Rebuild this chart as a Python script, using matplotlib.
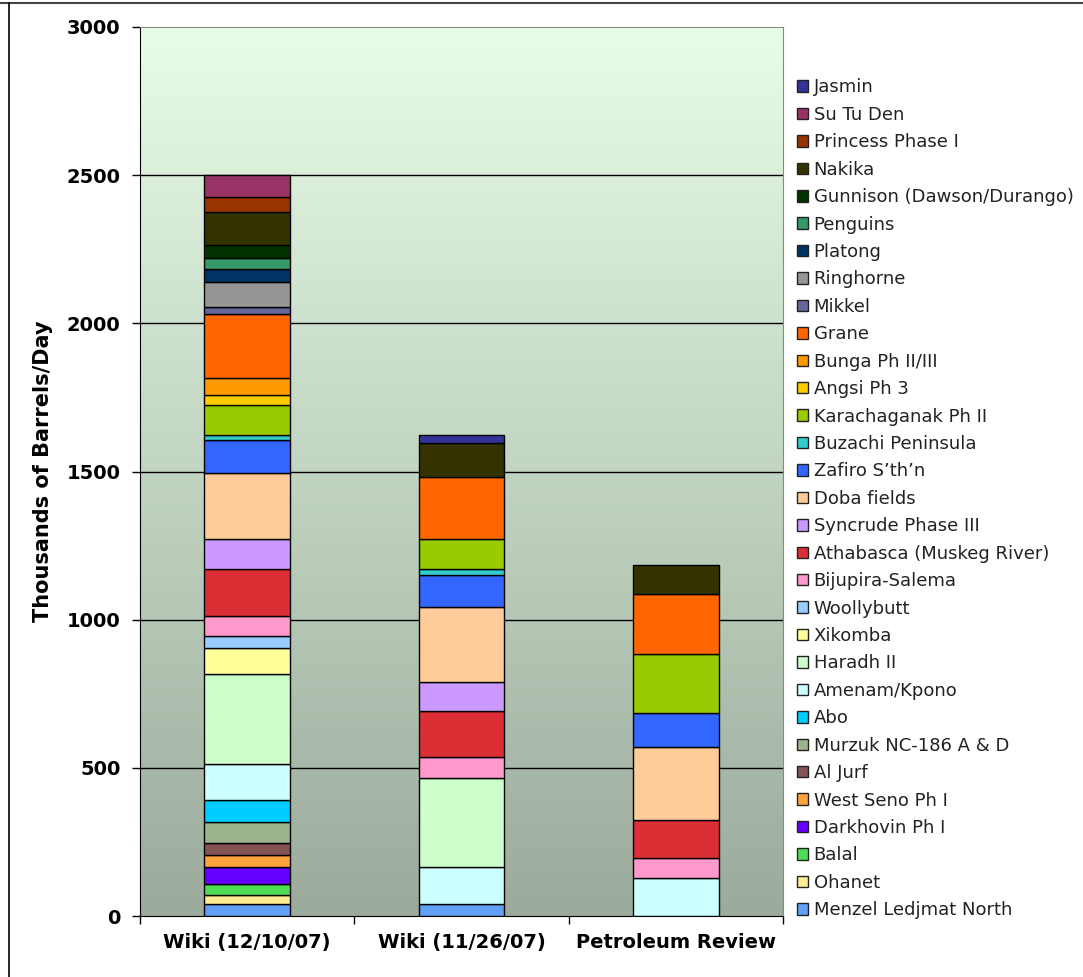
import numpy as np
import matplotlib
matplotlib.use('Agg')
import matplotlib.pyplot as plt
from matplotlib.patches import Patch
from matplotlib.lines import Line2D

# sources compared
sources = ['Wiki (12/10/07)', 'Wiki (11/26/07)', 'Petroleum Review']

# projects, stacked bottom to top (thousands of barrels/day per source)
projects = [
    'Menzel Ledjmat North', 'Ohanet', 'Balal', 'Darkhovin Ph I', 'West Seno Ph I',
    'Al Jurf', 'Murzuk NC-186 A & D', 'Abo', 'Amenam/Kpono', 'Haradh II',
    'Xikomba', 'Woollybutt', 'Bijupira-Salema', 'Athabasca (Muskeg River)',
    'Syncrude Phase III', 'Doba fields', 'Zafiro S\u2019th\u2019n', 'Buzachi Peninsula',
    'Karachaganak Ph II', 'Angsi Ph 3', 'Bunga Ph II/III', 'Grane', 'Mikkel',
    'Ringhorne', 'Platong', 'Penguins', 'Gunnison (Dawson/Durango)', 'Nakika',
    'Princess Phase I', 'Su Tu Den', 'Jasmin',
]

menzel      = [40, 40, 0]
ohanet      = [30, 0, 0]
balal       = [37, 0, 0]
darkhovin   = [58, 0, 0]
west_seno   = [40, 0, 0]
al_jurf     = [40, 0, 0]
murzuk      = [73, 0, 0]
abo         = [73, 0, 0]
amenam      = [122, 127, 127]
haradh      = [304, 300, 0]
xikomba     = [89, 0, 0]
woollybutt  = [40, 0, 0]
bijupira    = [68, 68, 70]
athabasca   = [157, 158, 127]
syncrude    = [102, 97, 0]
doba        = [222, 253, 247]
zafiro      = [112, 109, 115]
buzachi     = [17, 19, 0]
karachag    = [99, 102, 199]
angsi       = [34, 0, 0]
bunga       = [57, 0, 0]
grane       = [217, 210, 200]
mikkel      = [24, 0, 0]
ringhorne   = [86, 0, 0]
platong     = [42, 0, 0]
penguins    = [37, 0, 0]
gunnison    = [45, 0, 0]
nakika      = [109, 113, 99]
princess    = [52, 0, 0]
su_tu_den   = [75, 0, 0]
jasmin      = [0, 28, 0]

values = [menzel, ohanet, balal, darkhovin, west_seno, al_jurf, murzuk, abo,
          amenam, haradh, xikomba, woollybutt, bijupira, athabasca, syncrude,
          doba, zafiro, buzachi, karachag, angsi, bunga, grane, mikkel,
          ringhorne, platong, penguins, gunnison, nakika, princess, su_tu_den,
          jasmin]

colors = ['#62A0F8', '#FFEB90', '#4CDD55', '#6600FF', '#FFA33F', '#845356',
          '#9BB48B', '#00CCFF', '#CCFFFF', '#CCFFCC', '#FFFF99', '#99CCFF',
          '#FF99CC', '#DC2E35', '#CC99FF', '#FFCC99', '#3366FF', '#33CCCC',
          '#99CC00', '#FFCC00', '#FF9900', '#FF6600', '#666699', '#969696',
          '#003366', '#339966', '#003300', '#333300', '#993300', '#993366',
          '#333399']

fig = plt.figure(figsize=(10.83, 9.77), dpi=100)
ax = fig.add_axes([0.1293, 0.0624, 0.5937, 0.91])

# green-to-grey backdrop of the plot area
grad = np.linspace(0, 1, 256).reshape(-1, 1)
top = np.array([0.91, 0.99, 0.91])
bot = np.array([0.61, 0.67, 0.61])
img = top + grad[..., None] * (bot - top)
ax.imshow(img, extent=[-0.5, 2.5, 0, 3000], aspect='auto', zorder=0,
          interpolation='bilinear')

x = np.arange(len(sources))
bottom = np.zeros(len(sources))
for name, vals, col in zip(projects, values, colors):
    vals = np.array(vals, dtype=float)
    keep = vals > 0
    ax.bar(x[keep], vals[keep], bottom=bottom[keep], width=0.4, color=col,
           edgecolor='black', linewidth=1.0, zorder=3)
    bottom += vals

ax.set_xlim(-0.5, 2.5)
ax.set_ylim(0, 3000)
ax.set_yticks([0, 500, 1000, 1500, 2000, 2500, 3000])
ax.set_yticklabels(['0', '500', '1000', '1500', '2000', '2500', '3000'],
                   fontsize=14, fontweight='bold')
ax.set_xticks(x)
ax.set_xticklabels(sources, fontsize=14, fontweight='bold')
ax.tick_params(axis='x', length=0, pad=12)
ax.tick_params(axis='y', length=6, width=1, direction='out', pad=8)
# category separators on the x axis
ax.set_xticks([-0.5, 0.5, 1.5, 2.5], minor=True)
ax.tick_params(axis='x', which='minor', length=6, width=1, direction='out')

for yv in [500, 1000, 1500, 2000, 2500]:
    ax.axhline(yv, color='black', linewidth=1, zorder=1)

ax.set_ylabel('Thousands of Barrels/Day', fontsize=15, fontweight='bold',
              labelpad=10)

for side in ['top', 'right']:
    ax.spines[side].set_color('#888888')
for side in ['left', 'bottom']:
    ax.spines[side].set_color('black')

handles = [Patch(facecolor=c, edgecolor='#222222', linewidth=1.0)
           for c in colors]
leg = fig.legend(handles[::-1], projects[::-1], loc='upper left',
                 bbox_to_anchor=(0.736, 0.9197), frameon=False, fontsize=13,
                 handlelength=0.6, handleheight=0.6, handletextpad=0.32,
                 labelspacing=0.522, borderaxespad=0, borderpad=0)
for t in leg.get_texts():
    t.set_color('#222222')

# outer frame lines
fig.add_artist(Line2D([0, 1], [0.997, 0.997], color='#444444', linewidth=1.5,
                      transform=fig.transFigure))
fig.add_artist(Line2D([0.0085, 0.0085], [0, 0.997], color='black',
                      linewidth=1.2, transform=fig.transFigure))

fig.savefig('out.png', dpi=100)
